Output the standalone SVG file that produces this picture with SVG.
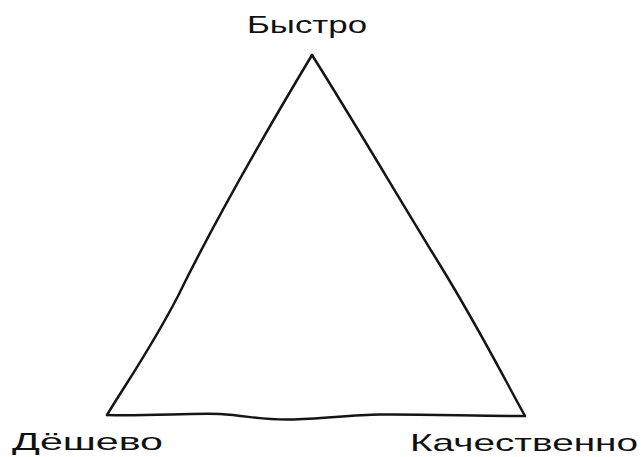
<svg xmlns="http://www.w3.org/2000/svg" width="641" height="457" viewBox="0 0 641 457">
<style>
.lbl{font-family:"Liberation Sans","DejaVu Sans",sans-serif;font-size:24px;fill:#111;}
.edge{fill:none;stroke:#151515;stroke-width:2.5;stroke-linecap:round;stroke-linejoin:round;}
</style>
<rect width="641" height="457" fill="#fff"/>
<g id="connectors">
<path class="edge" d="M312 55 C 270 125, 220 210, 178 296 C 150 350, 125 385, 107 415"/>
<path class="edge" d="M312 55 C 350 115, 400 200, 440 265 C 480 330, 505 380, 525 416"/>
<path class="edge" d="M107 415 C 150 416, 190 413, 220 414 C 250 416, 260 420, 290 419.5 C 320 419, 350 415, 380 414.5 C 420 414, 480 416, 525 416"/>
</g>
<g id="node-fast"><text class="lbl" x="247" y="33" textLength="120" lengthAdjust="spacingAndGlyphs">Быстро</text></g>
<g id="node-cheap"><text class="lbl" x="12" y="450" textLength="151" lengthAdjust="spacingAndGlyphs">Дёшево</text></g>
<g id="node-quality"><text class="lbl" x="410" y="451" textLength="228" lengthAdjust="spacingAndGlyphs">Качественно</text></g>
</svg>
